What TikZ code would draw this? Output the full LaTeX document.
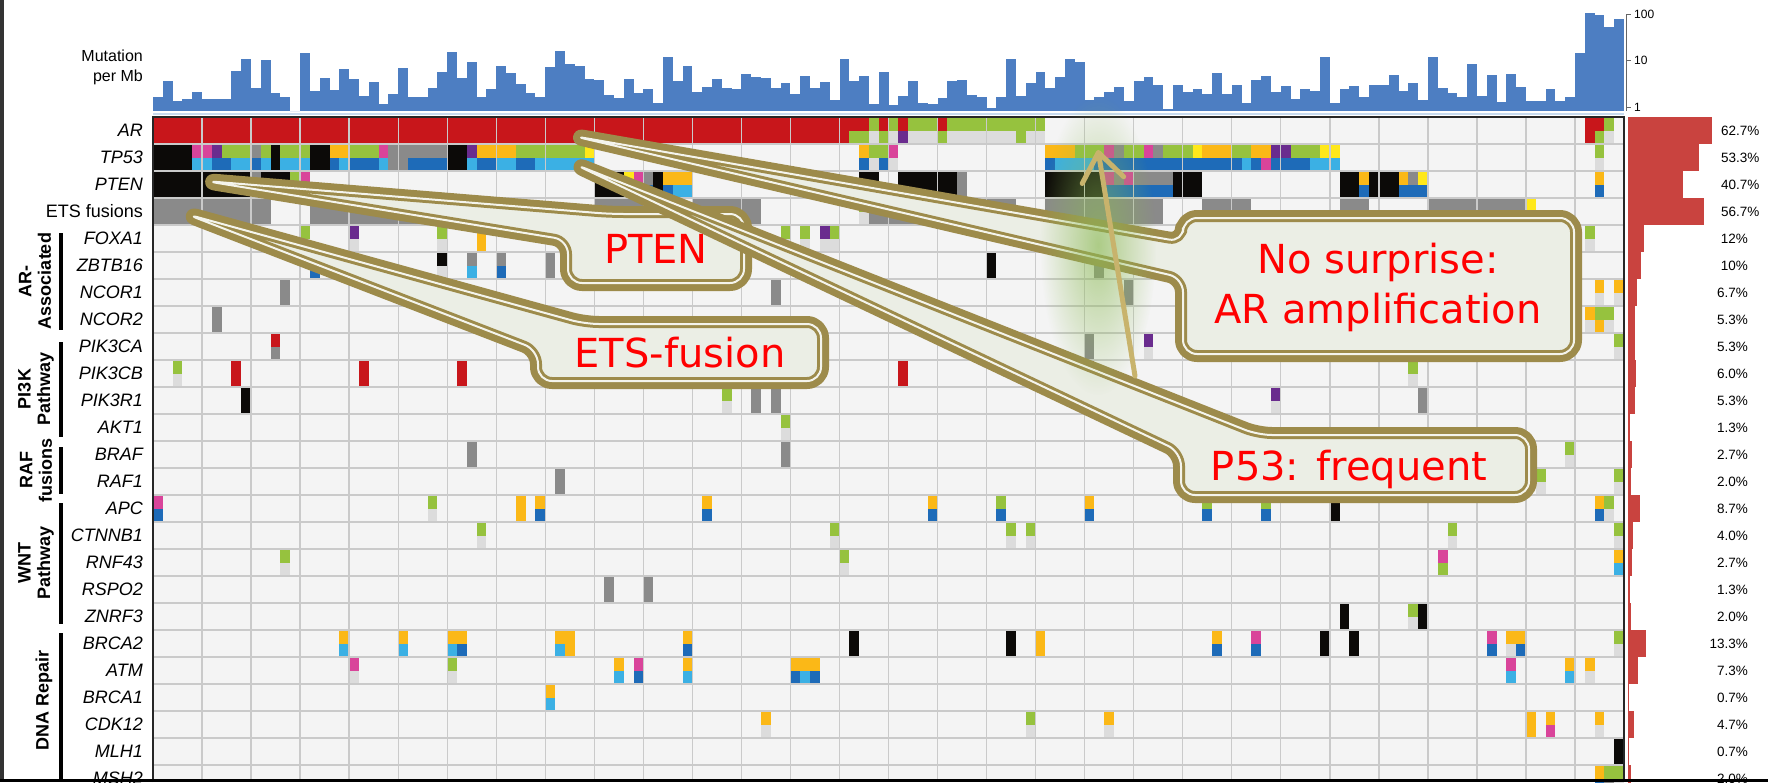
\documentclass[tikz,border=0pt]{standalone}
\usepackage{fontspec}
\setmainfont{Liberation Sans}
\newfontfamily\callfont{DejaVu Sans}
\usepackage{tikz}
\usetikzlibrary{arrows.meta,fadings}
\definecolor{histblue}{HTML}{4D7EC2}
\definecolor{histline}{HTML}{C7DAEE}
\definecolor{pctred}{HTML}{C9433F}
\definecolor{cellbg}{HTML}{F4F4F4}
\definecolor{gridln}{HTML}{CACACA}
\definecolor{cR}{HTML}{C8161B}
\definecolor{cK}{HTML}{0C0A08}
\definecolor{cG}{HTML}{8A8A8A}
\definecolor{cL}{HTML}{96C23E}
\definecolor{cP}{HTML}{6A2C8E}
\definecolor{cM}{HTML}{D9449A}
\definecolor{cO}{HTML}{FBB817}
\definecolor{cY}{HTML}{FFE81A}
\definecolor{cB}{HTML}{1E6BB8}
\definecolor{cC}{HTML}{3BB0E4}
\definecolor{cW}{HTML}{DCDCDC}
\definecolor{calledge}{HTML}{9D8B4B}
\definecolor{callfill}{HTML}{EBEEE5}
\definecolor{callline}{HTML}{F4F4EC}
\definecolor{callred}{HTML}{FF0000}
\definecolor{arrowkhaki}{HTML}{C8B36C}
\definecolor{glowgreen}{HTML}{8CBA55}
\tikzfading[name=glowfade, inner color=transparent!0, outer color=transparent!100]
\tikzset{
  gene/.style={anchor=east, inner sep=0pt, font=\fontsize{18}{18}\selectfont\itshape},
  grp/.style={rotate=90, align=center, inner sep=0pt, font=\fontsize{18}{19.5}\selectfont\bfseries},
  grpbar/.style={draw=black, line width=4.5pt},
  pct/.style={inner sep=0pt, font=\fontsize{13.5}{14}\selectfont},
  ticklab/.style={anchor=west, inner sep=0pt, font=\fontsize{12}{12}\selectfont},
  tickline/.style={draw=black!60, line width=0.8pt},
  gridline/.style={draw=gridln, line width=1.3pt},
  frame/.style={draw=black!85, line width=1.6pt},
  callshape/.style={rounded corners=14pt, line join=round},
  calltext/.style={font=\callfont\fontsize{40}{50}\selectfont, text=callred, align=center, inner sep=0pt},
  pointer/.style={draw=arrowkhaki, line width=5pt, line cap=round,
    -{Straight Barb[length=28pt,width=42pt,line width=5pt,round]}},
}
\newcommand\drawcallout[1]{%
  \draw[draw=calledge, line width=16pt, callshape] #1;
  \fill[fill=callfill, callshape] #1;
  \draw[draw=calledge, line width=8pt, callshape] #1;
  \draw[draw=callline, line width=2pt, callshape] #1;
}

\begin{document}
\begin{tikzpicture}[x=1pt, y=-1pt]
  \useasboundingbox (0,0) rectangle (1768,782);
  \fill[white] (0,0) rectangle (1768,782);

  % mutations per Mb
  \node[anchor=east, align=right, inner sep=0pt, font=\fontsize{16}{20}\selectfont] (mutlabel) at (143,67) {Mutation\\per Mb};
  \foreach \t [count=\i from 0] in {97,81,101,99,92,99,99,99,71,59,88,60,93,97,111,53,91,78,90,69,
      79,96,82,104,94,68,97,97,88,72,52,78,62,97,89,66,73,84,93,97,67,51,64,66,79,80,
      95,98,79,93,89,103,57,81,66,92,87,79,88,89,74,77,78,88,83,94,76,88,82,100,59,
      81,76,104,72,105,96,81,103,104,98,81,80,95,97,108,97,59,96,83,72,88,77,59,62,100,
      97,92,87,101,81,77,85,
      109,85,92,89,94,73,94,85,103,80,76,92,86,99,89,91,57,103,89,86,97,85,85,75,91,
      83,100,57,88,93,97,64,96,75,102,74,87,101,101,89,101,97,53,13,15,27,19}
    \fill[histblue] ({153+\i*9.807},111) rectangle ({153+(\i+1)*9.807},\t);
  \draw[histline, line width=2pt] (153,113.5) -- (1624,113.5);
  \draw[tickline] (1626,14) -- (1626,111);
  \foreach \v/\y in {100/14,10/60,1/107} {
    \draw[tickline] (1626,\y) -- (1631,\y);
    \node[ticklab] (tick\v) at (1634,\y) {\v};
  }

  % oncoprint
  \fill[cellbg] (153,117) rectangle (1624,782);
  \foreach \r/\a/\b/\ct/\cb in {
      0/0/70/R/R, 0/71/72/R/L, 0/73/73/L/W, 0/74/74/R/L, 0/75/75/L/W, 0/76/76/R/P, 0/77/79/L/W,
      0/80/80/R/L, 0/81/87/L/W, 0/88/88/L/L, 0/89/90/L/W, 0/146/146/R/R, 0/147/147/R/L, 0/148/148/L/W,
      1/0/3/K/K, 1/4/5/M/C, 1/6/6/P/B, 1/7/7/L/B, 1/8/9/L/C, 1/10/10/G/B, 1/11/11/L/C, 1/12/12/K/K,
      1/13/15/L/C, 1/16/17/K/K, 1/18/18/O/B, 1/19/19/O/C, 1/20/22/L/B, 1/23/23/M/C, 1/24/25/G/G,
      1/26/29/G/B, 1/30/31/K/K, 1/32/32/P/C, 1/33/34/O/B, 1/35/36/O/C, 1/37/38/L/B, 1/39/43/L/C,
      1/44/44/Y/C, 1/72/72/O/B, 1/73/73/L/W, 1/74/74/L/B, 1/75/75/M/W, 1/91/91/O/B, 1/92/93/O/C,
      1/94/95/L/C, 1/96/96/L/B, 1/97/97/M/B, 1/98/98/G/B, 1/99/100/L/B, 1/101/101/M/B, 1/102/102/G/B,
      1/103/105/L/B, 1/106/106/Y/B, 1/107/109/O/B, 1/110/110/L/B, 1/111/111/L/C, 1/112/112/O/B,
      1/113/113/O/M, 1/114/115/P/B, 1/116/117/L/B, 1/118/118/L/C, 1/119/120/Y/C, 1/147/147/L/W,
      2/0/9/K/K, 2/10/10/G/G, 2/11/13/K/K, 2/14/14/L/B, 2/15/15/M/B, 2/45/47/K/K, 2/48/48/Y/C,
      2/49/49/M/C, 2/50/50/G/B, 2/51/51/K/K, 2/52/52/O/B, 2/53/54/O/C, 2/72/73/K/K, 2/76/81/K/K,
      2/82/82/G/G, 2/91/96/K/K, 2/97/97/M/B, 2/98/98/G/B, 2/99/99/M/B, 2/100/103/G/B, 2/104/106/K/K,
      2/121/122/K/K, 2/123/123/O/B, 2/124/126/K/K, 2/127/127/O/B, 2/128/128/G/B, 2/129/129/Y/B,
      2/147/147/O/B,
      3/0/11/G/G, 3/16/29/G/G, 3/45/49/G/G, 3/55/61/G/G, 3/72/72/L/W, 3/73/87/G/G, 3/91/102/G/G,
      3/107/111/G/G, 3/121/123/G/G, 3/130/139/G/G, 3/140/140/Y/Y,
      4/15/15/L/W, 4/20/20/P/W, 4/29/29/L/W, 4/33/33/O/O, 4/64/64/L/W, 4/66/66/L/W, 4/68/68/P/W,
      4/69/69/L/W, 4/146/146/L/W,
      5/16/16/G/B, 5/20/20/Y/W, 5/29/29/K/W, 5/32/32/G/C, 5/35/35/G/B, 5/40/40/G/G, 5/85/85/K/K,
      5/96/96/G/G,
      6/13/13/G/G, 6/30/30/O/C, 6/63/63/G/G, 6/99/99/G/G, 6/147/147/O/W, 6/149/149/O/W,
      7/6/6/G/G, 7/146/146/O/W, 7/147/147/L/O, 7/148/148/L/W,
      8/12/12/R/G, 8/95/95/G/G, 8/101/101/P/W, 8/149/149/L/W,
      9/2/2/L/W, 9/8/8/R/R, 9/21/21/R/R, 9/31/31/R/R, 9/76/76/R/R, 9/95/95/R/R, 9/128/128/L/W,
      10/9/9/K/K, 10/58/58/L/W, 10/61/61/G/G, 10/63/63/G/G, 10/101/101/K/K, 10/114/114/P/W,
      10/129/129/G/G,
      11/64/64/L/W,
      12/32/32/G/G, 12/64/64/G/G, 12/144/144/L/W,
      13/41/41/G/G, 13/141/141/L/W, 13/149/149/L/W,
      14/0/0/M/B, 14/28/28/L/W, 14/37/37/O/O, 14/39/39/O/B, 14/56/56/O/B, 14/79/79/O/B, 14/86/86/L/B,
      14/95/95/O/B, 14/107/107/L/B, 14/113/113/L/B, 14/120/120/K/K, 14/147/147/O/B, 14/148/148/L/W,
      15/33/33/L/W, 15/69/69/L/W, 15/87/87/L/W, 15/89/89/L/W, 15/132/132/L/W, 15/149/149/L/W,
      16/13/13/L/W, 16/70/70/L/W, 16/131/131/M/L, 16/149/149/O/C,
      17/46/46/G/G, 17/50/50/G/G,
      18/121/121/K/K, 18/128/128/L/W, 18/129/129/K/K,
      19/19/19/O/C, 19/25/25/O/C, 19/30/30/O/C, 19/31/31/O/B, 19/41/41/O/C, 19/42/42/O/O,
      19/54/54/O/B, 19/71/71/K/K, 19/87/87/K/K, 19/90/90/O/O, 19/108/108/O/B, 19/112/112/M/B,
      19/119/119/K/K, 19/122/122/K/K, 19/136/136/M/B, 19/138/138/O/W, 19/139/139/O/B, 19/149/149/L/W,
      20/20/20/M/W, 20/30/30/L/W, 20/47/47/O/C, 20/49/49/M/B, 20/54/54/O/C, 20/65/65/O/B,
      20/66/66/O/C, 20/67/67/O/B, 20/138/138/M/C, 20/144/144/O/C, 20/146/146/O/W,
      21/40/40/O/C,
      22/62/62/O/W, 22/89/89/L/W, 22/97/97/O/W, 22/140/140/O/O, 22/142/142/O/M, 22/147/147/O/W,
      23/149/149/K/K,
      24/147/147/O/B, 24/148/148/L/G, 24/149/149/L/W} {
    \fill[fill=c\ct] ({153+\a*9.807},{117+27*\r}) rectangle ({153+(\b+1)*9.807},{130.5+27*\r});
    \fill[fill=c\cb] ({153+\a*9.807},{130.5+27*\r}) rectangle ({153+(\b+1)*9.807},{144+27*\r});
  }
  \foreach \k in {1,...,29}
    \draw[gridline] ({153+\k*49.035},117) -- ({153+\k*49.035},782);
  \foreach \r in {1,...,24}
    \draw[gridline] (153,{117+27*\r}) -- (1624,{117+27*\r});
  \draw[frame] (153,782) -- (153,117) -- (1624,117) -- (1624,782);

  \foreach \g [count=\r from 0] in {AR,TP53,PTEN,{\upshape ETS fusions},FOXA1,ZBTB16,NCOR1,NCOR2,
      PIK3CA,PIK3CB,PIK3R1,AKT1,BRAF,RAF1,APC,CTNNB1,RNF43,RSPO2,ZNRF3,BRCA2,ATM,BRCA1,CDK12,MLH1,MSH2}
    \node[gene] (gene\r) at (143,{130.5+27*\r}) {\g};

  % frequency bars
  \foreach \p [count=\r from 0] in {62.7,53.3,40.7,56.7,12,10,6.7,5.3,5.3,6.0,5.3,1.3,2.7,2.0,8.7,
      4.0,2.7,1.3,2.0,13.3,7.3,0.7,4.7,0.7,2.0} {
    \fill[pctred] (1628,{117+27*\r}) rectangle ({1628+1.34*\p},{144+27*\r});
    \ifnum\r<4
      \node[pct, anchor=west] (pct\r) at (1721,{130.5+27*\r}) {\p\%};
    \else
      \node[pct, anchor=east] (pct\r) at (1748,{130.5+27*\r}) {\p\%};
    \fi
  }

  % gene groups
  \draw[grpbar] (61,233) -- (61,330);
  \draw[grpbar] (61,342) -- (61,437);
  \draw[grpbar] (61,447) -- (61,494);
  \draw[grpbar] (61,503) -- (61,624);
  \draw[grpbar] (61,633) -- (61,782);
  \node[grp] (grpAR) at (35,281) {AR-\\Associated};
  \node[grp] (grpPI3K) at (36,389) {PI3K\\Pathway};
  \node[grp] (grpRAF) at (36,470) {RAF\\fusions};
  \node[grp] (grpWNT) at (36,563) {WNT\\Pathway};
  \node[grp] (grpDNA) at (44,700) {DNA Repair};

  % callouts
  \coordinate (ptenTip) at (205,181);
  \coordinate (etsTip) at (186,214);
  \coordinate (arTip) at (573,136);
  \coordinate (tpTip) at (574,164);
  \drawcallout{(ptenTip) -- (610,214) -- (744,214) -- (744,283) -- (568,283) -- (568,240) -- cycle}
  \drawcallout{(etsTip) -- (585,324) -- (821,324) -- (821,381) -- (538,381) -- (538,350) -- cycle}
  \drawcallout{(arTip) -- (1183,242) -- (1183,218) -- (1574,218) -- (1574,354) -- (1183,354) -- (1183,278) -- cycle}
  \drawcallout{(tpTip) -- (1258,435) -- (1529,435) -- (1529,495) -- (1181,495) -- (1181,452) -- cycle}

  \fill[glowgreen, fill opacity=0.65, path fading=glowfade] (1098,245) ellipse [x radius=58, y radius=150];
  \coordinate (arrowFoot) at (1135,376);
  \coordinate (arrowHead) at (1098,150);
  \draw[pointer] (arrowFoot) -- (arrowHead);

  \node[calltext] (ptenNote) at (656,249) {PTEN};
  \node[calltext] (etsNote) at (680,353) {ETS-fusion};
  \node[calltext] (arNote) at (1378,287) {No surprise:\\AR amplification};
  \node[calltext] (tpNote) at (1349,469) {P53: frequent};

  \fill[black!80] (0,0) rectangle (4,782);
  \fill[black] (0,779) rectangle (1768,782);
\end{tikzpicture}
\end{document}
